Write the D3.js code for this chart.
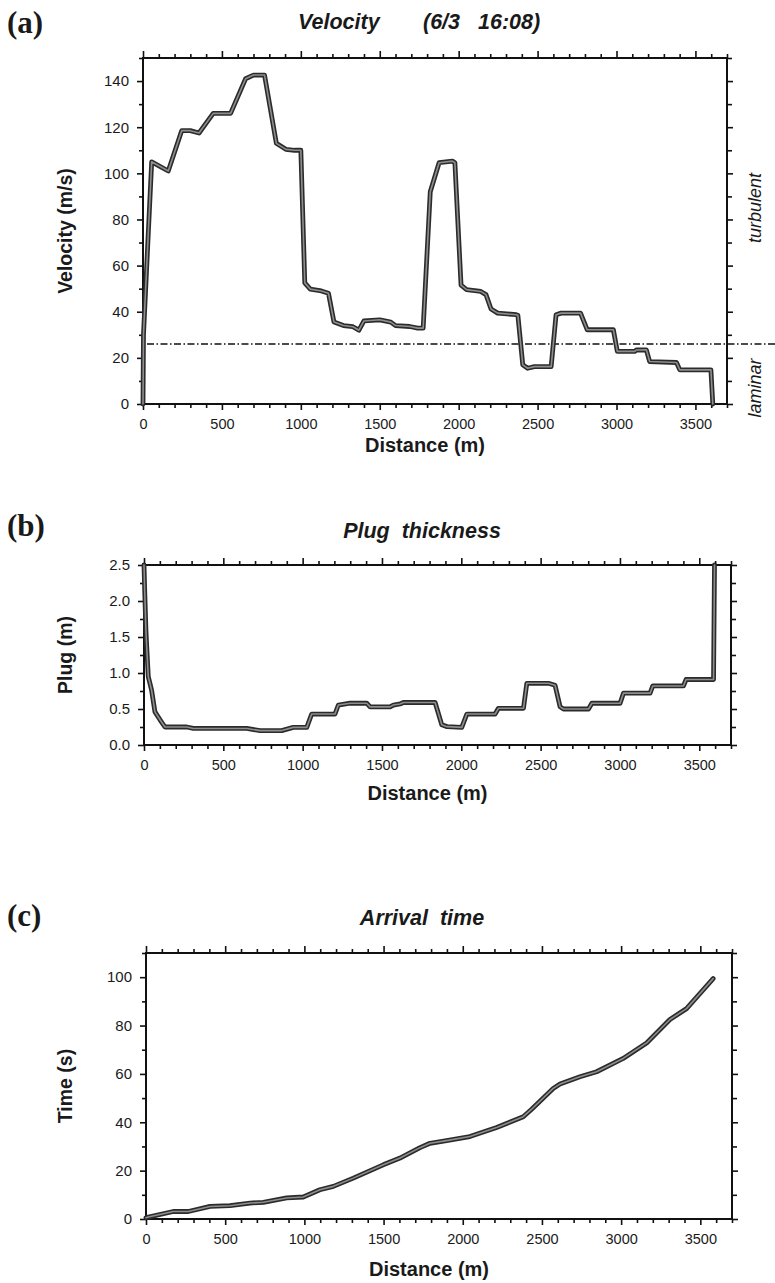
<!DOCTYPE html>
<html>
<head>
<meta charset="utf-8">
<script src="https://cdn.jsdelivr.net/npm/d3@7"></script>
<style>
  body { margin: 0; background: #fff; }
  svg { display: block; }
  text { font-family: "Liberation Sans", Arial, Helvetica, sans-serif; fill: #1a1a1a; }
</style>
</head>
<body>
<svg id="fig" width="775" height="1283"></svg>
<script>
// Distance axis (shared)
const distMax = 3700;
const distLabels = [0, 500, 1000, 1500, 2000, 2500, 3000, 3500];

// (a) Velocity along the path
const velDist = [0, 3, 55, 160, 245, 300, 355, 445, 555, 650, 700, 770, 845, 905, 960, 1000,
  1025, 1060, 1130, 1175, 1210, 1270, 1330, 1368, 1400, 1500, 1570, 1600, 1690, 1740, 1775,
  1820, 1876, 1960, 1976, 2015, 2050, 2140, 2173, 2205, 2247, 2365, 2375, 2406, 2437, 2480,
  2586, 2617, 2649, 2772, 2814, 2980, 3005, 3115, 3125, 3189, 3210, 3380, 3401, 3598, 3610];
const velValue = [0, 30, 105, 101, 118.5, 118.5, 117.5, 126, 126, 141, 142.6, 142.6, 113, 110.4, 110, 110,
  52.5, 49.8, 49, 48, 35.5, 34, 33.5, 32, 36, 36.5, 35.5, 34, 33.6, 32.9, 32.9,
  92, 104.6, 105.3, 104.6, 51.5, 49.6, 48.8, 47.4, 41.2, 39.4, 38.7, 38.5, 17, 15.5, 16.2,
  16.2, 38.7, 39.4, 39.4, 32.2, 32.2, 22.8, 22.8, 23.4, 23.5, 18.4, 18, 14.8, 14.8, 0];
const velTicks = [0, 20, 40, 60, 80, 100, 120, 140];
const laminarLimit = 26;

// (b) Plug thickness
const plugDist = [0, 5, 12, 17, 27, 48, 69, 101, 132, 269, 311, 648, 731, 868, 941, 1026, 1057,
  1204, 1225, 1299, 1404, 1425, 1551, 1572, 1614, 1635, 1835, 1877, 1910, 2003, 2035, 2213,
  2234, 2392, 2413, 2549, 2591, 2623, 2644, 2802, 2823, 3001, 3022, 3190, 3207, 3400, 3417,
  3590, 3596];
const plugValue = [2.5, 2.1, 1.6, 1.37, 0.95, 0.76, 0.46, 0.35, 0.25, 0.25, 0.23, 0.23, 0.2, 0.2,
  0.245, 0.245, 0.43, 0.43, 0.555, 0.58, 0.58, 0.53, 0.53, 0.555, 0.57, 0.59, 0.59, 0.28, 0.255,
  0.245, 0.43, 0.43, 0.51, 0.51, 0.857, 0.857, 0.83, 0.53, 0.5, 0.5, 0.58, 0.58, 0.72, 0.72,
  0.82, 0.82, 0.91, 0.91, 2.5];
const plugTicks = [0, 0.5, 1, 1.5, 2, 2.5];

// (c) Arrival time
const timeDist = [0, 15, 172, 267, 404, 530, 657, 741, 888, 993, 1098, 1183, 1309, 1498, 1604,
  1730, 1793, 1898, 2045, 2214, 2382, 2435, 2571, 2614, 2740, 2845, 3013, 3161, 3308, 3413, 3581];
const timeValue = [0.5, 0.8, 3.1, 3.1, 5.2, 5.5, 6.6, 6.9, 8.7, 9.1, 12.1, 13.5, 16.9, 22.4, 25.2,
  29.5, 31.3, 32.4, 34.1, 37.8, 42.3, 45.4, 54, 55.8, 58.8, 60.9, 66.4, 72.8, 82.5, 87, 99.4];
const timeTicks = [0, 20, 40, 60, 80, 100];

const svg = d3.select("#fig");

const panels = [
  { tag: "(a)", tagY: 33, box: { left: 143, right: 727, top: 58, bottom: 404 },
    yMax: 150, yStep: 10, yTicks: velTicks, yFmt: d3.format("d"), yLabel: "Velocity (m/s)",
    xs: velDist, ys: velValue, xLabelY: 452 },
  { tag: "(b)", tagY: 536, title: "Plug  thickness", titleY: 538,
    box: { left: 144, right: 731, top: 565, bottom: 745 },
    yMax: 2.5, yStep: 0.25, yTicks: plugTicks, yFmt: d3.format(".1f"), yLabel: "Plug (m)",
    xs: plugDist, ys: plugValue, xLabelY: 800 },
  { tag: "(c)", tagY: 926, title: "Arrival  time", titleY: 925,
    box: { left: 146, right: 732, top: 953, bottom: 1219 },
    yMax: 110, yStep: 10, yTicks: timeTicks, yFmt: d3.format("d"), yLabel: "Time (s)",
    xs: timeDist, ys: timeValue, xLabelY: 1276 }
];

const near = (a, b) => Math.abs(a - b) < 1e-6;

panels.forEach((p, i) => {
  const b = p.box;
  const x = d3.scaleLinear().domain([0, distMax]).range([b.left, b.right]);
  const y = d3.scaleLinear().domain([0, p.yMax]).range([b.bottom, b.top]);
  const g = svg.append("g");

  const xAll = d3.range(0, distMax + 1, 100);
  const xMajor = d => distLabels.includes(d);
  const yAll = d3.range(0, p.yMax + 1e-9, p.yStep).map(v => +v.toFixed(3));
  const yMajor = d => p.yTicks.some(t => near(t, d));

  // bottom axis
  const bottom = g.append("g").attr("transform", `translate(0,${b.bottom})`)
    .call(d3.axisBottom(x).tickValues(xAll).tickSizeOuter(0).tickPadding(9)
      .tickFormat(d => xMajor(d) ? d : ""));
  bottom.selectAll(".tick line").attr("y2", d => xMajor(d) ? 6 : 4);

  // top axis
  const top = g.append("g").attr("transform", `translate(0,${b.top})`)
    .call(d3.axisTop(x).tickValues(xAll).tickSizeOuter(0).tickFormat(""));
  top.selectAll(".tick line").attr("y2", d => xMajor(d) ? -7 : -4);

  // left axis
  const left = g.append("g").attr("transform", `translate(${b.left},0)`)
    .call(d3.axisLeft(y).tickValues(yAll).tickSizeOuter(0).tickPadding(8)
      .tickFormat(d => yMajor(d) ? p.yFmt(d) : ""));
  left.selectAll(".tick line").attr("x2", d => yMajor(d) ? -6 : -4);

  // right axis
  const right = g.append("g").attr("transform", `translate(${b.right},0)`)
    .call(d3.axisRight(y).tickValues(yAll).tickSizeOuter(0).tickFormat(""));
  right.selectAll(".tick line").attr("x2", d => yMajor(d) ? 6 : 5);

  g.selectAll(".domain").remove();
  g.selectAll(".tick line").attr("stroke", "#111").attr("stroke-width", 1.6);
  bottom.selectAll(".tick text").attr("font-size", 14.5);
  left.selectAll(".tick text").attr("font-size", 15);
  g.selectAll(".tick text").attr("fill", "#1a1a1a")
    .attr("font-family", "'Liberation Sans', Arial, sans-serif");

  g.append("rect")
    .attr("x", b.left).attr("y", b.top)
    .attr("width", b.right - b.left).attr("height", b.bottom - b.top)
    .attr("fill", "none").attr("stroke", "#111").attr("stroke-width", 2);

  // laminar / turbulent threshold
  if (i === 0) {
    g.append("line")
      .attr("x1", b.left + 4).attr("x2", 775)
      .attr("y1", y(laminarLimit)).attr("y2", y(laminarLimit))
      .attr("stroke", "#111").attr("stroke-width", 1.5)
      .attr("stroke-dasharray", "7,2.5,1.5,2.5");
    [["turbulent", 208], ["laminar", 388]].forEach(([t, cy]) => {
      g.append("text")
        .attr("transform", `translate(761,${cy}) rotate(-90)`)
        .attr("text-anchor", "middle")
        .attr("font-size", 18).attr("font-style", "italic")
        .text(t);
    });
  }

  // data curve: dark outline with grey core
  const pts = p.xs.map((d, k) => [d, p.ys[k]]);
  const line = d3.line().x(d => x(d[0])).y(d => y(d[1]));
  g.append("path").datum(pts).attr("d", line)
    .attr("fill", "none").attr("stroke", "#2b2b2b").attr("stroke-width", 4.8)
    .attr("stroke-linejoin", "round").attr("stroke-linecap", "round");
  g.append("path").datum(pts).attr("d", line)
    .attr("fill", "none").attr("stroke", "#8e8e8e").attr("stroke-width", 1.6)
    .attr("stroke-linejoin", "round").attr("stroke-linecap", "round");

  // labels
  g.append("text")
    .attr("x", 7).attr("y", p.tagY)
    .attr("font-size", 31).attr("font-weight", "bold").attr("fill", "#444")
    .style("font-family", "'Liberation Serif', 'Times New Roman', serif")
    .text(p.tag);

  if (i === 0) {
    g.append("text").attr("x", 298).attr("y", 29)
      .attr("font-size", 21.5).attr("font-weight", "bold").attr("font-style", "italic")
      .text("Velocity");
    g.append("text").attr("x", 423).attr("y", 29)
      .attr("font-size", 21.5).attr("font-weight", "bold").attr("font-style", "italic")
      .style("white-space", "pre")
      .text("(6/3   16:08)");
  } else {
    g.append("text").attr("x", 422).attr("y", p.titleY)
      .attr("text-anchor", "middle")
      .attr("font-size", 21.5).attr("font-weight", "bold").attr("font-style", "italic")
      .style("white-space", "pre")
      .text(p.title);
  }

  g.append("text")
    .attr("x", (b.left + b.right) / 2 - 10).attr("y", p.xLabelY)
    .attr("text-anchor", "middle")
    .attr("font-size", 20).attr("font-weight", "bold")
    .text("Distance (m)");

  g.append("text")
    .attr("transform", `translate(72,${(b.top + b.bottom) / 2}) rotate(-90)`)
    .attr("text-anchor", "middle")
    .attr("font-size", 19.5).attr("font-weight", "bold")
    .text(p.yLabel);
});
</script>
</body>
</html>
